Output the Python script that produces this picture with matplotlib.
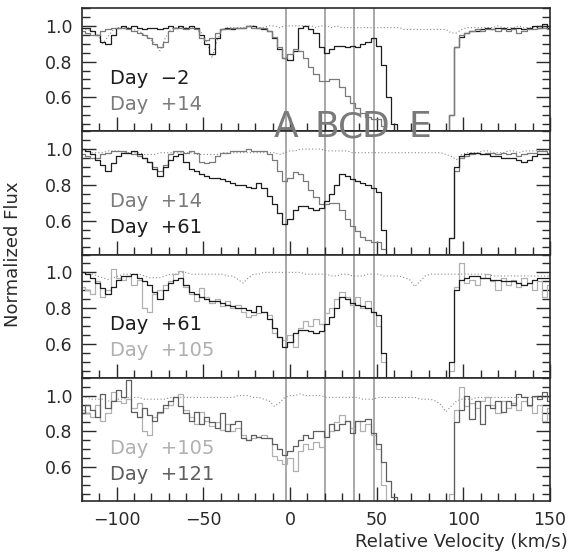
import numpy as np
import matplotlib
matplotlib.use('Agg')
from matplotlib import pyplot as plt
from matplotlib.ticker import MultipleLocator

# velocity grid of the spectra (km/s)
vel = np.arange(-120, 151, 3)

day_m2 = [0.99, 0.99, 0.97, 0.95, 0.91, 0.90, 0.95, 0.99, 1.00, 0.99,
          1.00, 0.99, 0.98, 0.99, 0.99, 0.98, 0.99, 1.00, 0.99, 1.00,
          0.99, 1.00, 0.99, 0.95, 0.90, 0.84, 0.93, 0.98, 0.99, 0.98,
          0.99, 0.99, 1.00, 1.00, 0.99, 0.98, 0.97, 0.93, 0.87, 0.82,
          0.81, 0.86, 0.99, 1.00, 0.98, 0.96, 0.88, 0.85, 0.87, 0.89,
          0.89, 0.88, 0.89, 0.88, 0.90, 0.91, 0.93, 0.89, 0.78, 0.60,
          0.45, 0.30, 0.30, 0.30, 0.30, 0.30, 0.30, 0.30, 0.30, 0.30,
          0.30, 0.50, 0.88, 0.94, 0.96, 0.97, 0.97, 0.98, 0.99, 0.98,
          0.99, 0.99, 0.98, 0.99, 0.99, 0.98, 0.99, 1.00, 0.99, 1.01,
          0.99]

day_14 = [0.97, 0.96, 0.95, 0.95, 0.97, 0.98, 0.99, 0.99, 0.99, 0.98,
          0.97, 0.96, 0.95, 0.93, 0.90, 0.88, 0.91, 0.97, 0.99, 0.99,
          0.98, 0.99, 0.98, 0.93, 0.92, 0.93, 0.96, 0.98, 0.98, 0.99,
          0.99, 0.99, 1.00, 0.99, 0.99, 0.99, 0.97, 0.94, 0.88, 0.82,
          0.84, 0.87, 0.86, 0.82, 0.77, 0.73, 0.69, 0.69, 0.70, 0.70,
          0.66, 0.61, 0.57, 0.54, 0.51, 0.49, 0.48, 0.48, 0.44, 0.35,
          0.30, 0.30, 0.30, 0.30, 0.30, 0.30, 0.30, 0.30, 0.30, 0.30,
          0.30, 0.50, 0.88, 0.95, 0.96, 0.97, 0.98, 0.97, 0.98, 0.98,
          0.97, 0.98, 0.97, 0.98, 0.96, 0.97, 0.98, 0.98, 0.99, 0.99,
          0.98]

day_61 = [1.00, 0.99, 0.97, 0.94, 0.91, 0.88, 0.92, 0.96, 0.98, 0.98,
          0.99, 0.97, 0.95, 0.93, 0.89, 0.85, 0.90, 0.94, 0.96, 0.97,
          0.93, 0.89, 0.88, 0.86, 0.85, 0.84, 0.84, 0.83, 0.82, 0.81,
          0.80, 0.80, 0.79, 0.78, 0.81, 0.78, 0.74, 0.69, 0.64, 0.58,
          0.61, 0.66, 0.68, 0.68, 0.67, 0.66, 0.67, 0.71, 0.75, 0.80,
          0.86, 0.85, 0.83, 0.82, 0.81, 0.80, 0.78, 0.76, 0.55, 0.38,
          0.30, 0.30, 0.30, 0.30, 0.30, 0.30, 0.30, 0.30, 0.30, 0.30,
          0.30, 0.50, 0.90, 0.96, 0.97, 0.98, 0.98, 0.97, 0.97, 0.96,
          0.96, 0.95, 0.95, 0.95, 0.94, 0.93, 0.94, 0.96, 0.97, 0.97,
          0.97]

day_105 = [0.92, 0.90, 0.88, 0.95, 0.86, 0.90, 1.02, 0.97, 0.96, 0.98,
           0.93, 0.96, 0.80, 0.78, 0.88, 0.90, 0.93, 0.95, 0.99, 1.01,
           0.92, 0.88, 0.84, 0.91, 0.86, 0.83, 0.85, 0.81, 0.84, 0.80,
           0.82, 0.78, 0.75, 0.76, 0.77, 0.78, 0.76, 0.66, 0.64, 0.62,
           0.65, 0.58, 0.69, 0.73, 0.70, 0.74, 0.71, 0.77, 0.80, 0.85,
           0.89, 0.86, 0.82, 0.86, 0.80, 0.84, 0.78, 0.70, 0.50, 0.40,
           0.30, 0.30, 0.30, 0.30, 0.30, 0.30, 0.30, 0.30, 0.30, 0.30,
           0.30, 0.45, 0.92, 1.05, 0.94, 0.96, 0.93, 0.97, 0.99, 0.95,
           0.90, 0.97, 0.93, 0.96, 0.92, 0.97, 0.94, 0.90, 0.95, 0.86,
           0.93]

day_121 = [0.90, 0.95, 0.92, 0.88, 1.01, 0.93, 0.97, 1.03, 0.99, 1.09,
           0.91, 0.88, 0.93, 0.89, 0.86, 0.91, 0.95, 0.97, 0.99, 0.94,
           0.90, 0.86, 0.91, 0.84, 0.88, 0.85, 0.82, 0.90, 0.80, 0.84,
           0.86, 0.76, 0.75, 0.78, 0.77, 0.76, 0.76, 0.73, 0.70, 0.67,
           0.69, 0.72, 0.75, 0.78, 0.76, 0.80, 0.80, 0.77, 0.84, 0.81,
           0.84, 0.86, 0.79, 0.86, 0.86, 0.87, 0.79, 0.73, 0.63, 0.52,
           0.43, 0.30, 0.30, 0.30, 0.30, 0.30, 0.30, 0.30, 0.30, 0.30,
           0.30, 0.40, 0.85, 0.92, 1.00, 0.87, 0.97, 0.84, 0.95, 0.93,
           0.97, 0.91, 0.97, 0.95, 1.01, 0.99, 0.95, 1.00, 0.98, 1.02,
           0.97]

# dotted reference spectrum, one per panel
ref_1 = [0.98, 0.98, 0.97, 0.95, 0.90, 0.94, 0.98, 0.99, 0.99, 0.99,
         0.98, 0.97, 0.95, 0.93, 0.90, 0.86, 0.93, 0.98, 0.99, 0.99,
         0.99, 0.99, 0.98, 0.96, 0.91, 0.82, 0.92, 0.98, 0.99, 0.99,
         0.99, 0.99, 1.00, 1.00, 0.99, 0.99, 1.00, 1.00, 0.99, 1.00,
         1.00, 1.00, 1.00, 1.00, 1.00, 0.99, 1.00, 1.00, 0.99, 1.00,
         0.99, 0.99, 0.99, 0.99, 0.99, 0.99, 0.99, 0.99, 0.99, 0.99,
         0.99, 0.99, 0.98, 0.98, 0.98, 0.98, 0.98, 0.98, 0.98, 0.98,
         0.98, 0.96, 0.96, 0.98, 0.99, 0.99, 0.99, 0.99, 0.99, 0.99,
         1.00, 0.99, 0.99, 0.99, 1.00, 0.99, 0.99, 0.99, 1.00, 0.99,
         0.99]

ref_2 = [0.99, 0.99, 0.98, 0.98, 0.98, 0.99, 0.99, 0.99, 0.98, 0.98,
         0.98, 0.98, 0.97, 0.97, 0.97, 0.98, 0.98, 0.98, 0.98, 0.98,
         0.98, 0.98, 0.97, 0.97, 0.97, 0.97, 0.97, 0.98, 0.98, 0.98,
         0.98, 0.98, 0.98, 0.98, 0.98, 0.98, 0.98, 0.98, 0.97, 0.98,
         0.99, 0.99, 1.00, 1.00, 1.00, 1.00, 1.00, 0.99, 0.99, 0.99,
         0.99, 0.99, 0.98, 0.98, 0.98, 0.98, 0.98, 0.98, 0.98, 0.98,
         0.98, 0.98, 0.98, 0.98, 0.98, 0.98, 0.98, 0.98, 0.98, 0.98,
         0.97, 0.96, 0.94, 0.97, 0.98, 0.98, 0.98, 0.99, 0.99, 0.98,
         0.98, 0.98, 0.99, 0.99, 0.98, 0.99, 0.99, 0.99, 0.99, 0.99,
         0.99]

ref_3 = [1.00, 0.99, 0.99, 0.98, 0.97, 0.96, 0.97, 0.98, 0.99, 0.99,
         0.99, 0.99, 0.98, 0.97, 0.97, 0.97, 0.98, 0.99, 0.99, 1.00,
         1.00, 0.99, 0.99, 0.99, 0.99, 0.99, 0.99, 0.99, 0.98, 0.98,
         0.96, 0.94, 0.97, 0.99, 0.99, 1.00, 1.00, 1.00, 1.00, 1.00,
         1.00, 1.00, 1.00, 0.99, 0.99, 0.99, 0.99, 0.99, 0.98, 0.98,
         0.99, 0.99, 0.98, 0.98, 0.98, 0.99, 0.99, 0.99, 0.98, 0.98,
         0.98, 0.98, 0.97, 0.96, 0.92, 0.95, 0.98, 0.99, 0.99, 0.99,
         0.99, 0.99, 0.99, 0.99, 0.99, 0.99, 0.99, 0.99, 0.99, 0.98,
         0.98, 0.98, 0.98, 0.98, 0.98, 0.98, 0.98, 0.98, 0.98, 0.98,
         0.98]

ref_4 = [0.99, 0.99, 0.98, 0.98, 0.98, 0.97, 0.97, 0.98, 0.98, 0.99,
         0.99, 0.99, 0.98, 0.98, 0.98, 0.98, 0.98, 0.99, 0.99, 0.99,
         0.99, 0.99, 0.99, 0.99, 0.99, 0.99, 0.99, 0.99, 0.99, 0.99,
         1.00, 1.00, 1.00, 0.99, 0.99, 0.98, 0.97, 0.94, 0.96, 0.99,
         1.00, 1.00, 1.01, 1.00, 1.00, 1.00, 1.00, 0.99, 0.99, 0.99,
         0.99, 0.99, 0.99, 0.99, 0.98, 0.98, 0.98, 0.99, 0.99, 0.99,
         0.99, 0.99, 0.99, 0.99, 0.99, 0.98, 0.98, 0.98, 0.97, 0.95,
         0.91, 0.94, 0.97, 0.98, 0.98, 0.98, 0.99, 0.99, 0.99, 0.99,
         0.99, 0.99, 0.99, 0.99, 0.99, 0.99, 0.99, 0.99, 0.99, 0.99,
         0.99]

comp_pos = [-2.5, 20, 37, 48.5]
comp_names = ['A', 'B', 'C', 'D', 'E']
comp_label_x = [-2, 21.3, 35, 49.2, 75.2]

c_black = '#1e1e1e'
c_gray = '#7a7a7a'
c_light = '#b0b0b0'
c_mid = '#5e5e5e'

panels = [
    ([(day_m2, c_black), (day_14, c_gray)], ref_1),
    ([(day_14, c_gray), (day_61, c_black)], ref_2),
    ([(day_105, c_light), (day_61, c_black)], ref_3),
    ([(day_105, c_light), (day_121, c_mid)], ref_4),
]
panel_labels = [
    [('Day  \u22122', c_black), ('Day  +14', c_gray)],
    [('Day  +14', c_gray), ('Day  +61', c_black)],
    [('Day  +61', c_black), ('Day  +105', c_light)],
    [('Day  +105', c_light), ('Day  +121', c_mid)],
]

fig = plt.figure(figsize=(5.71, 5.56), dpi=100)
gs = fig.add_gridspec(4, 1, left=0.1436, right=0.9632, top=0.9856, bottom=0.0989, hspace=0)

axes = []
for i, (series, ref) in enumerate(panels):
    ax = fig.add_subplot(gs[i])
    axes.append(ax)
    ax.plot(vel, ref, ls=(0, (1, 2)), color='#8a8a8a', lw=0.8)
    for flux, col in series:
        ax.step(vel, flux, where='mid', color=col, lw=0.9)
    for xv in comp_pos:
        ax.axvline(xv, color='#a8a8a8', lw=1.4, zorder=0.5)
    for j, (txt, col) in enumerate(panel_labels[i]):
        ax.text(-104, [0.675, 0.53][j], txt, color=col, fontsize=14)
    ax.set_xlim(-120, 150)
    ax.set_ylim(0.41, 1.10)
    ax.xaxis.set_major_locator(MultipleLocator(50))
    ax.xaxis.set_minor_locator(MultipleLocator(10))
    ax.yaxis.set_major_locator(MultipleLocator(0.2))
    ax.yaxis.set_minor_locator(MultipleLocator(0.05))
    ax.tick_params(which='both', direction='in', top=False, right=True, colors='#2a2a2a',
                   labelsize=12.5, width=1.0)
    ax.tick_params(which='major', length=10, pad=7)
    ax.tick_params(which='minor', length=5.5)
    ax.set_yticks([0.6, 0.8, 1.0])
    ax.set_yticklabels(['0.6', '0.8', '1.0'])
    for sp in ax.spines.values():
        sp.set_color('#2a2a2a')
        sp.set_linewidth(1.2)
    if i < 3:
        ax.tick_params(labelbottom=False)
    else:
        ax.set_xticks([-100, -50, 0, 50, 100, 150])
        ax.set_xticklabels(['\u2212100', '\u221250', '0', '50', '100', '150'])

# component letters straddling the first two panels
for name, xv in zip(comp_names, comp_label_x):
    axes[1].text(xv, 1.067, name, color='#7a7a7a', fontsize=26, ha='center',
                 va='baseline', clip_on=False, zorder=5)

fig.text(0.995, 0.016, 'Relative Velocity (km/s)', ha='right', va='baseline',
         fontsize=13, color='#2a2a2a')
fig.text(0.022, 0.542, 'Normalized Flux', rotation=90, ha='center', va='center',
         fontsize=13, color='#2a2a2a')

fig.savefig('out.png', dpi=100)
